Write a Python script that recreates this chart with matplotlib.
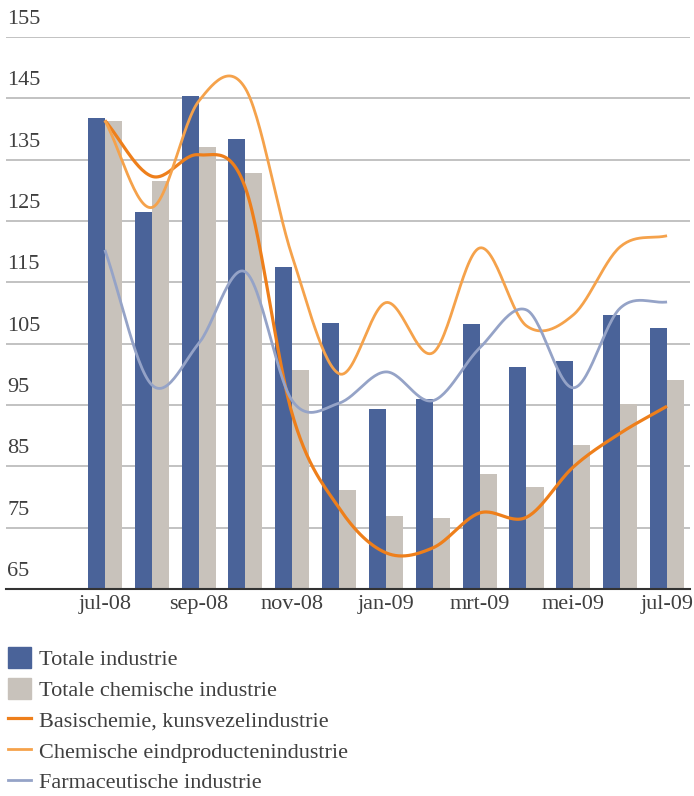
import numpy as np
import matplotlib.pyplot as plt
from matplotlib.patches import Patch
from matplotlib.lines import Line2D

# data (index)
months = ['jul-08', 'aug-08', 'sep-08', 'okt-08', 'nov-08', 'dec-08', 'jan-09',
          'feb-09', 'mrt-09', 'apr-09', 'mei-09', 'jun-09', 'jul-09']
totale_industrie = [141.8, 126.5, 145.4, 138.4, 117.5, 108.4, 94.3,
                    96.0, 108.2, 101.2, 102.2, 109.7, 107.6]
totale_chemie = [141.3, 131.5, 137.1, 132.8, 100.7, 81.1, 76.9,
                 76.6, 83.7, 81.6, 88.5, 95.2, 99.1]
basischemie = [141.4, 132.3, 135.8, 130.4, 93.5, 78.2, 70.9,
               71.7, 77.4, 76.7, 84.9, 90.4, 94.8]
eindproducten = [141.4, 127.2, 144.5, 146.6, 119.2, 100.1, 111.7,
                 103.5, 120.6, 107.9, 109.7, 120.8, 122.6]
farma = [120.3, 98.3, 105.0, 116.7, 95.7, 95.3, 100.4,
         95.7, 104.3, 110.5, 97.8, 110.8, 111.8]

yticks = [65, 75, 85, 95, 105, 115, 125, 135, 145, 155]

c_blue = '#4a6399'
c_grey = '#c8c2bb'
c_dorange = '#ee7f1b'
c_lorange = '#f5a24b'
c_farma = '#95a3c7'
txt = '#3f3f3f'

plt.rcParams['font.family'] = ['Liberation Serif', 'DejaVu Serif']
fs = 16


def smooth(x, y, n=30):
    # catmull-rom curve through the points (like excel's smoothed lines)
    x = np.asarray(x, float)
    y = np.asarray(y, float)
    px = np.concatenate([[2*x[0]-x[1]], x, [2*x[-1]-x[-2]]])
    py = np.concatenate([[2*y[0]-y[1]], y, [2*y[-1]-y[-2]]])
    xs, ys = [], []
    t = np.linspace(0, 1, n)
    for i in range(1, len(px)-2):
        for p, out in ((px, xs), (py, ys)):
            p0, p1, p2, p3 = p[i-1], p[i], p[i+1], p[i+2]
            b1 = p1 + (p2-p0)/6
            b2 = p2 - (p3-p1)/6
            out.extend((1-t)**3*p1 + 3*(1-t)**2*t*b1 + 3*(1-t)*t**2*b2 + t**3*p2)
    return xs, ys


fig = plt.figure(figsize=(6.94, 7.96), dpi=100)
ax = fig.add_axes([6/694, 1-589/796, 684/694, 552/796])

x = np.arange(len(months))
w = 0.363
ax.bar(x - w/2, totale_industrie, w, color=c_blue, zorder=2)
ax.bar(x + w/2, totale_chemie, w, color=c_grey, zorder=2)

for vals, col, lw in ((basischemie, c_dorange, 2.3), (eindproducten, c_lorange, 2.0), (farma, c_farma, 2.0)):
    sx, sy = smooth(x, vals)
    ax.plot(sx, sy, color=col, lw=lw, zorder=3, solid_capstyle='butt')

ax.set_xlim(-2.11, 12.49)
ax.set_ylim(65, 155)
ax.set_yticks(yticks)
ax.yaxis.grid(True, color='#b8b8b8', lw=1.2, zorder=0)
ax.set_axisbelow(True)
ax.tick_params(axis='y', length=0, labelleft=False)
for v in yticks:
    ax.text(0.002, v + 2.85, str(v), transform=ax.get_yaxis_transform(),
            ha='left', va='center', fontsize=fs, color=txt)

ax.set_xticks(x[::2])
ax.set_xticklabels(months[::2], fontsize=fs, color=txt)
ax.tick_params(axis='x', length=0, pad=4)

for s in ('top', 'right', 'left'):
    ax.spines[s].set_visible(False)
ax.spines['bottom'].set_color('#333333')
ax.spines['bottom'].set_linewidth(1.5)

handles = [Patch(color=c_blue), Patch(color=c_grey),
           Line2D([], [], color=c_dorange, lw=2.3),
           Line2D([], [], color=c_lorange, lw=2.0),
           Line2D([], [], color=c_farma, lw=2.0)]
labels = ['Totale industrie', 'Totale chemische industrie', 'Basischemie, kunsvezelindustrie',
          'Chemische eindproductenindustrie', 'Farmaceutische industrie']
fig.legend(handles, labels, loc='upper left', bbox_to_anchor=(8/694, 1-647/796),
           frameon=False, fontsize=fs, handlelength=1.05, handleheight=1.05,
           handletextpad=0.35, labelspacing=0.36, borderpad=0, borderaxespad=0,
           labelcolor=txt)

fig.savefig('out.png', dpi=100)
